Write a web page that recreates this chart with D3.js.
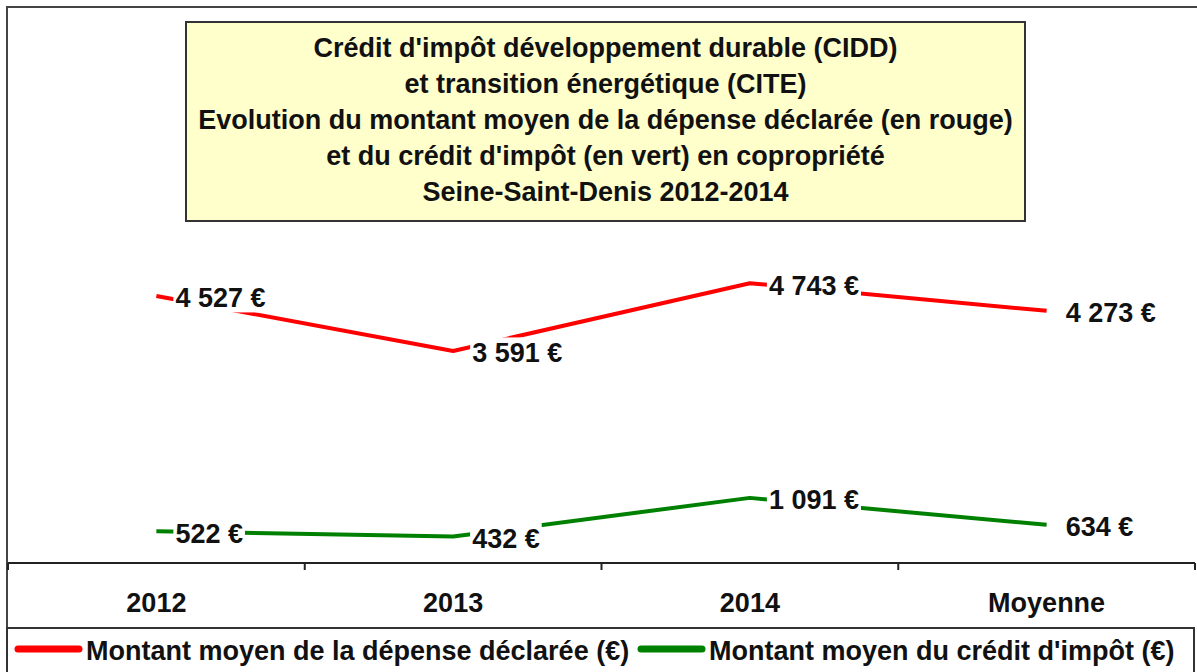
<!DOCTYPE html>
<html>
<head>
<meta charset="utf-8">
<script src="https://cdn.jsdelivr.net/npm/d3@7"></script>
<style>
    body { margin: 0; background: #fff; }
    svg text { font-family: "Liberation Sans", Arial, sans-serif; font-weight: bold; fill: #111; }
</style>
</head>
<body>
<script>
// data
const categories = ["2012", "2013", "2014", "Moyenne"];
const depense = [4527, 3591, 4743, 4273];
const credit = [522, 432, 1091, 634];
const series_names = ["Montant moyen de la dépense déclarée (€)", "Montant moyen du crédit d'impôt (€)"];
const series_colors = ["#ff0000", "#008000"];
const title_lines = [
    "Crédit d'impôt développement durable (CIDD)",
    "et transition énergétique (CITE)",
    "Evolution du montant moyen de la dépense déclarée (en rouge)",
    "et du crédit d'impôt (en vert) en copropriété",
    "Seine-Saint-Denis 2012-2014"
];

const width = 1197, height = 672;
const fmt = v => d3.format(",")(v).replace(",", " ") + " €";

const svg = d3.select("body").append("svg")
    .attr("width", width)
    .attr("height", height);

// chart frame
svg.append("rect")
    .attr("x", 7).attr("y", 7)
    .attr("width", 1210).attr("height", 700)
    .attr("fill", "#fff")
    .attr("stroke", "#444")
    .attr("stroke-width", 2);

var x = d3.scaleBand()
    .domain(categories)
    .range([8, 1195]);
var y = d3.scaleLinear()
    .domain([0, 9000])
    .range([562, 33]);

// x axis : labels centred, ticks on the band edges
var axis_y = 563;
var x_axis = svg.append("g")
    .attr("class", "x_axis")
    .attr("transform", "translate(0," + axis_y + ")")
    .call(d3.axisBottom(x).tickSize(0).tickPadding(49));
x_axis.select(".domain").remove();
x_axis.selectAll("text")
    .attr("font-size", 27)
    .attr("dy", 0);

var edges = categories.map(c => x(c)).concat([x.range()[1]]);
x_axis.append("line")
    .attr("x1", x.range()[0]).attr("x2", x.range()[1])
    .attr("stroke", "#222").attr("stroke-width", 2);
x_axis.selectAll(".edge")
    .data(edges)
    .enter().append("line")
    .attr("class", "edge")
    .attr("x1", d => d).attr("x2", d => d)
    .attr("y1", 0).attr("y2", 7)
    .attr("stroke", "#222").attr("stroke-width", 2);

// series
var series = [depense, credit];
var line = d3.line()
    .x((d, i) => x(categories[i]) + x.bandwidth() / 2)
    .y(d => y(d));

series.forEach(function (values, s) {
    svg.append("path")
        .datum(values)
        .attr("fill", "none")
        .attr("stroke", series_colors[s])
        .attr("stroke-width", 4)
        .attr("stroke-linejoin", "round")
        .attr("d", line);
});

// data labels with white background, to the right of the points
series.forEach(function (values, s) {
    var g = svg.append("g").attr("class", "labels_" + s);
    values.forEach(function (v, i) {
        var px = x(categories[i]) + x.bandwidth() / 2 + 19;
        var py = y(v) + 11.5;
        var bg = g.append("rect").attr("fill", "#fff");
        var t = g.append("text")
            .attr("x", px).attr("y", py)
            .attr("font-size", 27)
            .text(fmt(v));
        var w = t.node().getComputedTextLength();
        bg.attr("x", px - 2).attr("y", py - 25)
            .attr("width", w + 4).attr("height", 30);
    });
});

// title box
svg.append("rect")
    .attr("x", 186).attr("y", 22)
    .attr("width", 839).attr("height", 199)
    .attr("fill", "#ffffcc")
    .attr("stroke", "#333")
    .attr("stroke-width", 2);
svg.append("g")
    .selectAll("text")
    .data(title_lines)
    .enter().append("text")
    .attr("x", 605.5)
    .attr("y", (d, i) => 57 + i * 36)
    .attr("text-anchor", "middle")
    .attr("font-size", 27)
    .text(d => d);

// legend
var legend = svg.append("g").attr("class", "legend");
legend.append("rect")
    .attr("x", 7).attr("y", 628)
    .attr("width", 1187).attr("height", 70)
    .attr("fill", "#fff")
    .attr("stroke", "#333")
    .attr("stroke-width", 2);
var legend_x = [15, 638];
series_names.forEach(function (name, s) {
    legend.append("line")
        .attr("x1", legend_x[s] + 3).attr("x2", legend_x[s] + 64)
        .attr("y1", 649).attr("y2", 649)
        .attr("stroke", series_colors[s])
        .attr("stroke-width", 7)
        .attr("stroke-linecap", "round");
    legend.append("text")
        .attr("x", legend_x[s] + 71)
        .attr("y", 660)
        .attr("font-size", 27)
        .text(name);
});
</script>
</body>
</html>
